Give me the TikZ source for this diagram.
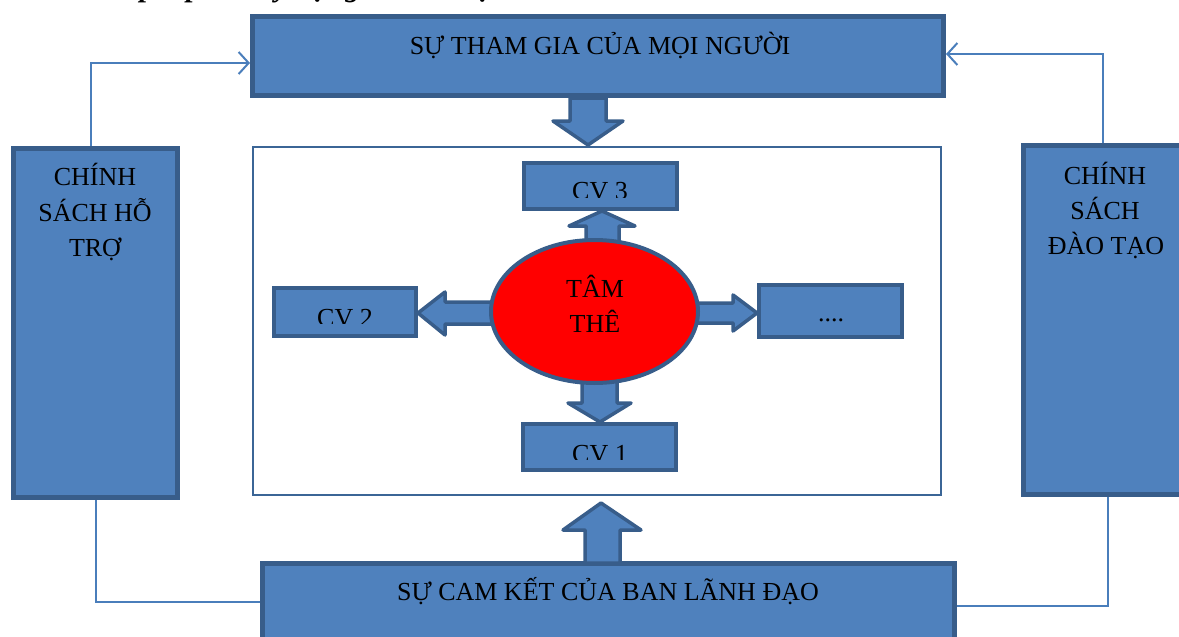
\documentclass[tikz,border=0pt]{standalone}
\usepackage{fontspec}
\setmainfont{Liberation Serif}
\usetikzlibrary{arrows.meta,shapes.geometric,calc}
\definecolor{boxfill}{HTML}{4F81BD}
\definecolor{boxline}{HTML}{385D8A}
\definecolor{connc}{HTML}{4A7EBB}
\begin{document}
\begin{tikzpicture}[x=1pt,y=-1pt,
  bx/.style={draw=boxline,fill=boxfill,line width=5pt,inner sep=0pt,rectangle},
  cvbox/.style={bx,line width=4pt},
  lbl/.style={font=\fontsize{26}{31}\selectfont,anchor=base,inner sep=0pt,text=black},
  conn/.style={draw=connc,line width=2pt},
  tip/.style={-{Straight Barb[length=10pt,width=22pt]}},
  blk/.style={draw=boxline,fill=boxfill,line width=3.5pt,line join=round},
  frame/.style={draw=connc!80!black,line width=1.4pt}]
\useasboundingbox (0,0) rectangle (1179,637);
\clip (0,0) rectangle (1179,637);

% partially visible heading (cut off at the top of the page)
\begin{scope}
  \clip (0,0) rectangle (1179,9);
  \node[anchor=base west,inner sep=0pt,font=\fontsize{30}{36}\selectfont\bfseries\itshape] (title) at (79,-4) {Giải pháp để xây dựng tâm thế tại};
\end{scope}

% main boxes
\node[bx,minimum width=691pt,minimum height=79pt] (top) at (598,56) {};
\node[bx,minimum width=692pt,minimum height=94pt] (bottom) at (608.5,610.5) {};
\node[bx,minimum width=164pt,minimum height=349pt] (left) at (95.5,323) {};
\node[bx,minimum width=169pt,minimum height=349pt] (right) at (1108,320) {};

% inner frame
\node[frame,inner sep=0pt,minimum width=688pt,minimum height=348pt] (frame) at (597,321) {};

% block arrows (drawn before the ellipse so it covers their roots)
\draw[blk] (570,98) -- (606,98) -- (606,121) -- (623,121) -- (588,145) -- (553,121) -- (570,121) -- cycle;
\draw[blk] (586,250) -- (586,226) -- (569,226) -- (602,211) -- (635,226) -- (619,226) -- (619,250) -- cycle;
\draw[blk] (505,302) -- (445,302) -- (445,292) -- (418,313) -- (445,335) -- (445,324) -- (505,324) -- cycle;
\draw[blk] (685,303) -- (733,303) -- (733,295) -- (757,313) -- (733,331) -- (733,323) -- (685,323) -- cycle;
\draw[blk] (582,372) -- (617,372) -- (617,403) -- (631,403) -- (600,422) -- (568,403) -- (582,403) -- cycle;
\draw[blk] (585,563) -- (585,530) -- (563,530) -- (601,503) -- (641,530) -- (620,530) -- (620,563) -- cycle;

% centre ellipse
\node[ellipse,draw=boxline,fill=red,line width=4pt,inner sep=0pt,minimum width=207pt,minimum height=143pt] (core) at (594.5,311.5) {};

% task boxes
\node[cvbox,minimum width=153pt,minimum height=46pt] (cv3) at (600,185.5) {};
\node[cvbox,minimum width=142pt,minimum height=48pt] (cv2) at (345,312) {};
\node[cvbox,minimum width=143pt,minimum height=52pt] (cvx) at (830.5,311) {};
\node[cvbox,minimum width=153pt,minimum height=46pt] (cv1) at (599.5,447) {};

% texts
\node[lbl] (ttop) at (600,54) {SỰ THAM GIA CỦA MỌI NGƯỜI};
\node[lbl] (tbot) at (608,600) {SỰ CAM KẾT CỦA BAN LÃNH ĐẠO};
\node[lbl] (tl1) at (95,185) {CHÍNH};
\node[lbl] (tl2) at (95,221) {SÁCH HỖ};
\node[lbl] (tl3) at (95,256) {TRỢ};
\node[lbl] (tr1) at (1105,184) {CHÍNH};
\node[lbl] (tr2) at (1105,219) {SÁCH};
\node[lbl] (tr3) at (1106,254) {ĐÀO TẠO};
\node[lbl] (tc1) at (595,297) {TÂM};
\node[lbl] (tc2) at (595,332) {THÊ};
\node[lbl] (tx) at (831,321) {....};
\begin{scope}
  \clip (500,150) rectangle (700,197);
  \node[lbl] (t3) at (600,199) {CV 3};
\end{scope}
\begin{scope}
  \clip (260,280) rectangle (430,323);
  \node[lbl] (t2) at (345,326) {CV 2};
\end{scope}
\begin{scope}
  \clip (500,420) rectangle (700,459);
  \node[lbl] (t1) at (600,462) {CV 1};
\end{scope}

% connectors
\draw[conn,tip] ([xshift=-4.5pt]left.north) |- ([yshift=-7pt]top.west);
\draw[conn,tip] ([xshift=-5pt]right.north) |- ([yshift=2pt]top.east);
\draw[conn] (left.south) |- ([yshift=9pt]bottom.west);
\draw[conn] ([yshift=5pt]bottom.east) -| (right.south);
\end{tikzpicture}
\end{document}
